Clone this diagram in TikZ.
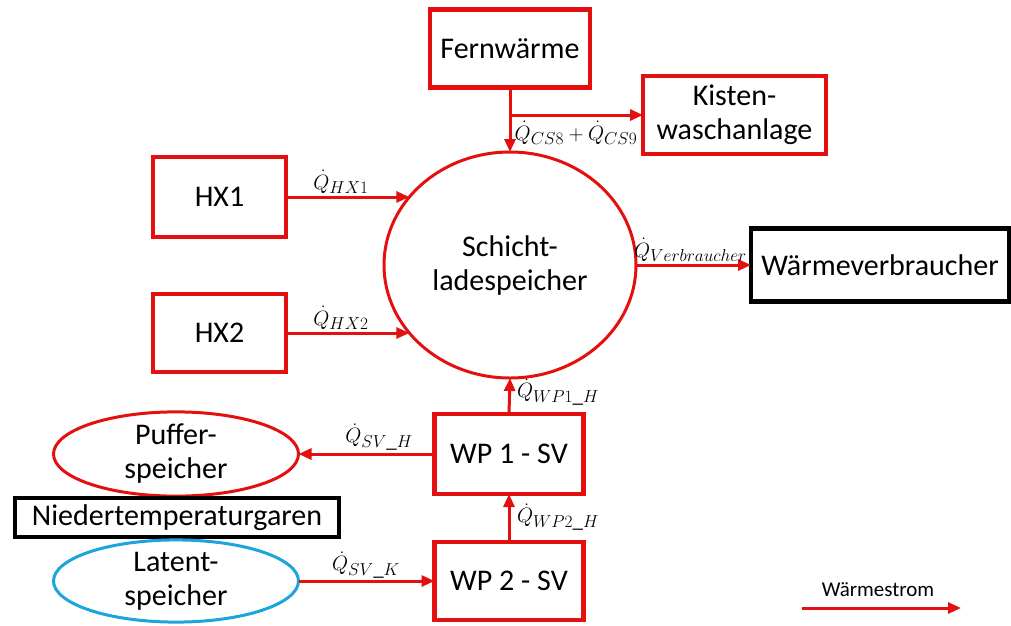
\documentclass[tikz,border=0pt]{standalone}
\usepackage{fontspec}
\setmainfont{Carlito}
\usetikzlibrary{arrows.meta,shapes.geometric}
\DeclareMathSizes{21}{21}{16}{13}
\definecolor{flowred}{RGB}{228,16,16}
\definecolor{latentblue}{RGB}{28,164,222}
\begin{document}
\begin{tikzpicture}[x=1pt,y=-1pt,
  every node/.style={inner sep=0pt,outer sep=0pt},
  txt/.style={font=\fontsize{30}{34}\selectfont,align=center},
  redbox/.style={txt,draw=flowred,line width=4.5pt,rectangle},
  blackbox/.style={txt,draw=black,line width=4.5pt,rectangle},
  redoval/.style={txt,draw=flowred,line width=3pt,ellipse},
  blueoval/.style={txt,draw=latentblue,line width=3pt,ellipse},
  flow/.style={draw=flowred,line width=3pt,-{Triangle[length=13pt,width=11pt]}},
  lbl/.style={font=\fontsize{21}{24}\selectfont},
  legend/.style={font=\fontsize{21}{24}\selectfont}]
\useasboundingbox (0,0) rectangle (1011,625);

% components
\node[redbox,minimum width=160pt,minimum height=78pt] (fern) at (510,48.5) {Fernwärme};
\node[redbox,minimum width=183pt,minimum height=78pt] (kisten) at (734.5,115) {Kisten-\\waschanlage};
\node[redbox,minimum width=133pt,minimum height=80pt] (hx1) at (219.5,197) {HX1};
\node[redbox,minimum width=133pt,minimum height=78pt] (hx2) at (219.5,333) {HX2};
\node[redoval,minimum width=252pt,minimum height=226pt] (schicht) at (510,265) {Schicht-\\ladespeicher};
\node[blackbox,minimum width=258pt,minimum height=73pt] (verb) at (880,265) {Wärmeverbraucher};
\node[redbox,minimum width=149pt,minimum height=80pt] (wp1) at (509,454) {WP 1 - SV};
\node[redbox,minimum width=149pt,minimum height=78pt] (wp2) at (509,581) {WP 2 - SV};
\node[redoval,minimum width=245pt,minimum height=84pt] (puffer) at (176,454) {Puffer-\\speicher};
\node[blackbox,minimum width=324pt,minimum height=39pt] (nt) at (177,517.5) {Niedertemperaturgaren};
\node[blueoval,minimum width=245pt,minimum height=80pt] (latent) at (176,581) {Latent-\\speicher};

% heat flows
\coordinate (split) at (510,115);
\draw[flow] (fern.south) -- (schicht.north);
\draw[flow] (split) -- (kisten.west);
\draw[flow] (hx1.east) -- (hx1.east -| schicht.146);
\draw[flow] (hx2.east) -- (hx2.east -| schicht.214);
\draw[flow] (schicht.east) -- (verb.west);
\draw[flow] (wp1.north) -- (schicht.south);
\draw[flow] (wp2.north) -- (wp1.south);
\draw[flow] (wp1.west) -- (puffer.east);
\draw[flow] (latent.east) -- (wp2.west);

% flow labels
\node[lbl] (lcs) at (576,133) {$\dot{Q}_{CS8}+\dot{Q}_{CS9}$};
\node[lbl] (lhx1) at (341,182) {$\dot{Q}_{HX1}$};
\node[lbl] (lhx2) at (341,318) {$\dot{Q}_{HX2}$};
\node[lbl,anchor=west] (lverb) at (634,250) {$\dot{Q}_{Verbraucher}$};
\node[lbl,anchor=west] (lwp1) at (517,392) {$\dot{Q}_{WP1\_H}$};
\node[lbl] (lsvh) at (379,437) {$\dot{Q}_{SV\_H}$};
\node[lbl,anchor=west] (lwp2) at (517,517) {$\dot{Q}_{WP2\_H}$};
\node[lbl] (lsvk) at (366,565) {$\dot{Q}_{SV\_K}$};

% legend
\node[legend] (legtext) at (878,590) {Wärmestrom};
\coordinate (lega) at (802,608);
\coordinate (legb) at (961,608);
\draw[flow] (lega) -- (legb);
\end{tikzpicture}
\end{document}
